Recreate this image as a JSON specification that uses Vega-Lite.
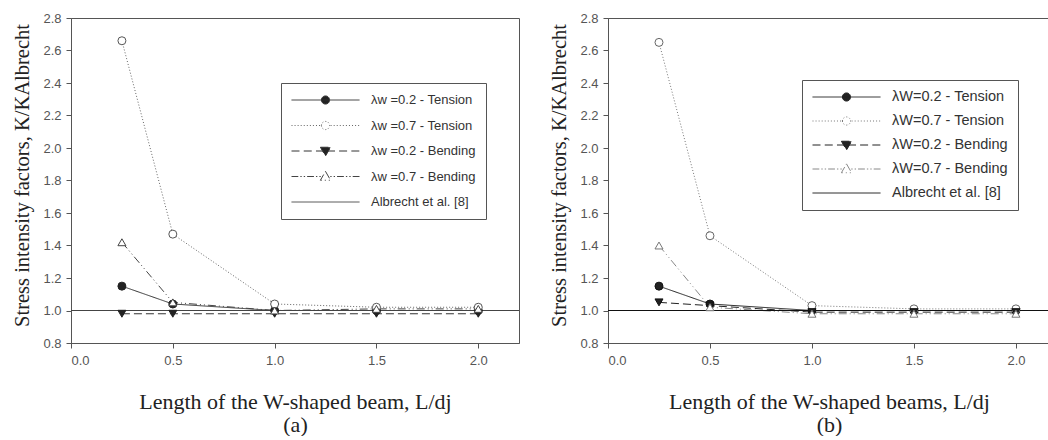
{
  "$schema": "https://vega.github.io/schema/vega-lite/v6.json",
  "padding": {"left": 12, "top": 11, "right": 0, "bottom": 0},
  "spacing": 29,
  "resolve": {
    "scale": {"color": "independent", "strokeDash": "independent", "shape": "independent", "fill": "independent", "stroke": "independent", "x": "independent", "y": "independent"},
    "legend": {"color": "independent", "strokeDash": "independent", "shape": "independent", "fill": "independent", "stroke": "independent"}
  },
  "config": {
    "view": {"stroke": "#555", "strokeWidth": 1},
    "axis": {"grid": false, "labelOverlap": false, "domainColor": "#555", "tickColor": "#555", "tickSize": 5, "labelFont": "Liberation Sans", "labelFontSize": 13, "labelColor": "#555", "titleFont": "Liberation Serif", "titleFontWeight": "normal", "titleColor": "#222"},
    "axisX": {"titleFontSize": 22, "labelPadding": 6, "titlePadding": 24, "titleLineHeight": 23},
    "axisY": {"titleFontSize": 20.5, "labelPadding": 5, "titlePadding": 10, "tickCount": 12, "titleY": 157},
    "legend": {"orient": "none", "title": null, "strokeColor": "#555", "fillColor": "#fff", "padding": 10, "labelFont": "Liberation Sans", "labelFontSize": 13, "labelColor": "#333", "labelOffset": 11, "symbolSize": 4624, "symbolStrokeWidth": 1, "clipHeight": 14}
  },
  "datasets": {
    "a": [
      {"x": 0.25, "y": 1.15, "series": "λw =0.2 - Tension"},
      {"x": 0.5, "y": 1.04, "series": "λw =0.2 - Tension"},
      {"x": 1.0, "y": 1.0, "series": "λw =0.2 - Tension"},
      {"x": 1.5, "y": 1.0, "series": "λw =0.2 - Tension"},
      {"x": 2.0, "y": 1.0, "series": "λw =0.2 - Tension"},
      {"x": 0.25, "y": 2.66, "series": "λw =0.7 - Tension"},
      {"x": 0.5, "y": 1.47, "series": "λw =0.7 - Tension"},
      {"x": 1.0, "y": 1.04, "series": "λw =0.7 - Tension"},
      {"x": 1.5, "y": 1.02, "series": "λw =0.7 - Tension"},
      {"x": 2.0, "y": 1.02, "series": "λw =0.7 - Tension"},
      {"x": 0.25, "y": 0.98, "series": "λw =0.2 - Bending"},
      {"x": 0.5, "y": 0.98, "series": "λw =0.2 - Bending"},
      {"x": 1.0, "y": 0.98, "series": "λw =0.2 - Bending"},
      {"x": 1.5, "y": 0.98, "series": "λw =0.2 - Bending"},
      {"x": 2.0, "y": 0.98, "series": "λw =0.2 - Bending"},
      {"x": 0.25, "y": 1.42, "series": "λw =0.7 - Bending"},
      {"x": 0.5, "y": 1.05, "series": "λw =0.7 - Bending"},
      {"x": 1.0, "y": 1.0, "series": "λw =0.7 - Bending"},
      {"x": 1.5, "y": 1.01, "series": "λw =0.7 - Bending"},
      {"x": 2.0, "y": 1.01, "series": "λw =0.7 - Bending"},
      {"x": 0.0, "y": 1.0, "series": "Albrecht et al. [8]"},
      {"x": 2.2, "y": 1.0, "series": "Albrecht et al. [8]"}
    ],
    "b": [
      {"x": 0.25, "y": 1.15, "series": "λW=0.2 - Tension"},
      {"x": 0.5, "y": 1.04, "series": "λW=0.2 - Tension"},
      {"x": 1.0, "y": 1.0, "series": "λW=0.2 - Tension"},
      {"x": 1.5, "y": 1.0, "series": "λW=0.2 - Tension"},
      {"x": 2.0, "y": 1.0, "series": "λW=0.2 - Tension"},
      {"x": 0.25, "y": 2.65, "series": "λW=0.7 - Tension"},
      {"x": 0.5, "y": 1.46, "series": "λW=0.7 - Tension"},
      {"x": 1.0, "y": 1.03, "series": "λW=0.7 - Tension"},
      {"x": 1.5, "y": 1.01, "series": "λW=0.7 - Tension"},
      {"x": 2.0, "y": 1.01, "series": "λW=0.7 - Tension"},
      {"x": 0.25, "y": 1.05, "series": "λW=0.2 - Bending"},
      {"x": 0.5, "y": 1.03, "series": "λW=0.2 - Bending"},
      {"x": 1.0, "y": 0.99, "series": "λW=0.2 - Bending"},
      {"x": 1.5, "y": 0.99, "series": "λW=0.2 - Bending"},
      {"x": 2.0, "y": 0.99, "series": "λW=0.2 - Bending"},
      {"x": 0.25, "y": 1.4, "series": "λW=0.7 - Bending"},
      {"x": 0.5, "y": 1.02, "series": "λW=0.7 - Bending"},
      {"x": 1.0, "y": 0.98, "series": "λW=0.7 - Bending"},
      {"x": 1.5, "y": 0.98, "series": "λW=0.7 - Bending"},
      {"x": 2.0, "y": 0.98, "series": "λW=0.7 - Bending"},
      {"x": 0.0, "y": 1.0, "series": "Albrecht et al. [8]"},
      {"x": 2.2, "y": 1.0, "series": "Albrecht et al. [8]"}
    ]
  },
  "hconcat": [
    {
      "width": 448,
      "height": 325,
      "data": {"name": "a"},
      "layer": [
        {
          "mark": {"type": "line", "strokeWidth": 1, "clip": true},
          "encoding": {
            "x": {"field": "x", "type": "quantitative", "scale": {"domain": [0, 2.2], "nice": false}, "axis": {"values": [0, 0.5, 1, 1.5, 2], "format": ".1f", "title": ["Length of the W-shaped beam, L/dj", "(a)"]}},
            "y": {"field": "y", "type": "quantitative", "scale": {"domain": [0.8, 2.8], "nice": false}, "axis": {"values": [0.8, 1.0, 1.2, 1.4, 1.6, 1.8, 2.0, 2.2, 2.4, 2.6, 2.8], "format": ".1f", "title": "Stress intensity factors, K/KAlbrecht"}},
            "color": {
              "field": "series", "type": "nominal",
              "scale": {"domain": ["λw =0.2 - Tension", "λw =0.7 - Tension", "λw =0.2 - Bending", "λw =0.7 - Bending", "Albrecht et al. [8]"], "range": ["#333", "#666", "#333", "#444", "#444"]},
              "legend": {
                "legendX": 210, "legendY": 65, "rowPadding": 11.5,
                "encode": {"symbols": {"update": {
                  "shape": {"signal": "['M-1,0H1M-0.12,0A0.12,0.12,0,1,1,0.12,0A0.12,0.12,0,1,1,-0.12,0Z', 'M-1,0h0.04M-0.91,0h0.04M-0.82,0h0.04M-0.73,0h0.04M-0.64,0h0.04M-0.55,0h0.04M-0.46,0h0.04M-0.37,0h0.04M-0.28,0h0.04M-0.19,0h0.04M0.15,0h0.04M0.24,0h0.04M0.33,0h0.04M0.42,0h0.04M0.51,0h0.04M0.6,0h0.04M0.69,0h0.04M0.78,0h0.04M0.87,0h0.04M0.96,0h0.04M-0.12,0A0.12,0.12,0,1,1,0.12,0A0.12,0.12,0,1,1,-0.12,0Z', 'M-1,0H-0.76M-0.64,0H-0.4M-0.28,0H0.28M0.4,0H0.64M0.76,0H1M-0.15,-0.11L0.15,-0.11L0,0.15Z', 'M-1,0H-0.8M-0.74,0h0.04M-0.64,0h0.04M-0.54,0H-0.34M-0.28,0h0.04M-0.18,0h0.04M0.14,0h0.04M0.24,0h0.04M0.34,0H0.54M0.6,0h0.04M0.7,0h0.04M0.8,0H1M0,-0.15L0.15,0.11L-0.15,0.11Z', 'M-1,0H1'][datum.index]"},
                  "fill": {"signal": "['#222', '#fff', '#222', '#fff', 'transparent'][datum.index]"},
                  "strokeDash": {"value": []}
                }}}
              }
            },
            "strokeDash": {
              "field": "series", "type": "nominal",
              "scale": {"domain": ["λw =0.2 - Tension", "λw =0.7 - Tension", "λw =0.2 - Bending", "λw =0.7 - Bending", "Albrecht et al. [8]"], "range": [[1, 0], [1, 2], [8, 4], [8, 3, 1, 3, 1, 3], [1, 0]]},
              "legend": null
            }
          }
        },
        {
          "transform": [{"filter": "datum.series !== 'Albrecht et al. [8]'"}],
          "mark": {"type": "point", "size": 64, "strokeWidth": 1, "opacity": 1, "fillOpacity": 1},
          "encoding": {
            "x": {"field": "x", "type": "quantitative"},
            "y": {"field": "y", "type": "quantitative"},
            "shape": {"field": "series", "type": "nominal", "scale": {"domain": ["λw =0.2 - Tension", "λw =0.7 - Tension", "λw =0.2 - Bending", "λw =0.7 - Bending"], "range": ["circle", "circle", "triangle-down", "triangle-up"]}, "legend": null},
            "fill": {"field": "series", "type": "nominal", "scale": {"domain": ["λw =0.2 - Tension", "λw =0.7 - Tension", "λw =0.2 - Bending", "λw =0.7 - Bending"], "range": ["#222", "#fff", "#222", "#fff"]}, "legend": null},
            "stroke": {"field": "series", "type": "nominal", "scale": {"domain": ["λw =0.2 - Tension", "λw =0.7 - Tension", "λw =0.2 - Bending", "λw =0.7 - Bending"], "range": ["#222", "#555", "#222", "#444"]}, "legend": null}
          }
        }
      ]
    },
    {
      "width": 442,
      "height": 325,
      "data": {"name": "b"},
      "layer": [
        {
          "mark": {"type": "line", "strokeWidth": 1, "clip": true},
          "encoding": {
            "x": {"field": "x", "type": "quantitative", "scale": {"domain": [0, 2.167], "nice": false}, "axis": {"values": [0, 0.5, 1, 1.5, 2], "format": ".1f", "title": ["Length of the W-shaped beams, L/dj", "(b)"]}},
            "y": {"field": "y", "type": "quantitative", "scale": {"domain": [0.8, 2.8], "nice": false}, "axis": {"values": [0.8, 1.0, 1.2, 1.4, 1.6, 1.8, 2.0, 2.2, 2.4, 2.6, 2.8], "format": ".1f", "title": "Stress intensity factors, K/KAlbrecht"}},
            "color": {
              "field": "series", "type": "nominal",
              "scale": {"domain": ["λW=0.2 - Tension", "λW=0.7 - Tension", "λW=0.2 - Bending", "λW=0.7 - Bending", "Albrecht et al. [8]"], "range": ["#222", "#777", "#222", "#888", "#111"]},
              "legend": {
                "legendX": 194, "legendY": 62, "rowPadding": 9, "labelFontSize": 14.5,
                "encode": {"symbols": {"update": {
                  "shape": {"signal": "['M-1,0H1M-0.12,0A0.12,0.12,0,1,1,0.12,0A0.12,0.12,0,1,1,-0.12,0Z', 'M-1,0h0.04M-0.91,0h0.04M-0.82,0h0.04M-0.73,0h0.04M-0.64,0h0.04M-0.55,0h0.04M-0.46,0h0.04M-0.37,0h0.04M-0.28,0h0.04M-0.19,0h0.04M0.15,0h0.04M0.24,0h0.04M0.33,0h0.04M0.42,0h0.04M0.51,0h0.04M0.6,0h0.04M0.69,0h0.04M0.78,0h0.04M0.87,0h0.04M0.96,0h0.04M-0.12,0A0.12,0.12,0,1,1,0.12,0A0.12,0.12,0,1,1,-0.12,0Z', 'M-1,0H-0.76M-0.64,0H-0.4M-0.28,0H0.28M0.4,0H0.64M0.76,0H1M-0.15,-0.11L0.15,-0.11L0,0.15Z', 'M-1,0H-0.8M-0.74,0h0.04M-0.64,0h0.04M-0.54,0H-0.34M-0.28,0h0.04M-0.18,0h0.04M0.14,0h0.04M0.24,0h0.04M0.34,0H0.54M0.6,0h0.04M0.7,0h0.04M0.8,0H1M0,-0.15L0.15,0.11L-0.15,0.11Z', 'M-1,0H1'][datum.index]"},
                  "fill": {"signal": "['#222', '#fff', '#222', '#fff', 'transparent'][datum.index]"},
                  "strokeDash": {"value": []}
                }}}
              }
            },
            "strokeDash": {
              "field": "series", "type": "nominal",
              "scale": {"domain": ["λW=0.2 - Tension", "λW=0.7 - Tension", "λW=0.2 - Bending", "λW=0.7 - Bending", "Albrecht et al. [8]"], "range": [[1, 0], [1, 2], [8, 4], [8, 3, 1, 3, 1, 3], [1, 0]]},
              "legend": null
            }
          }
        },
        {
          "transform": [{"filter": "datum.series !== 'Albrecht et al. [8]'"}],
          "mark": {"type": "point", "size": 64, "strokeWidth": 1, "opacity": 1, "fillOpacity": 1},
          "encoding": {
            "x": {"field": "x", "type": "quantitative"},
            "y": {"field": "y", "type": "quantitative"},
            "shape": {"field": "series", "type": "nominal", "scale": {"domain": ["λW=0.2 - Tension", "λW=0.7 - Tension", "λW=0.2 - Bending", "λW=0.7 - Bending"], "range": ["circle", "circle", "triangle-down", "triangle-up"]}, "legend": null},
            "fill": {"field": "series", "type": "nominal", "scale": {"domain": ["λW=0.2 - Tension", "λW=0.7 - Tension", "λW=0.2 - Bending", "λW=0.7 - Bending"], "range": ["#222", "#fff", "#222", "#fff"]}, "legend": null},
            "stroke": {"field": "series", "type": "nominal", "scale": {"domain": ["λW=0.2 - Tension", "λW=0.7 - Tension", "λW=0.2 - Bending", "λW=0.7 - Bending"], "range": ["#111", "#666", "#111", "#777"]}, "legend": null}
          }
        }
      ]
    }
  ]
}
